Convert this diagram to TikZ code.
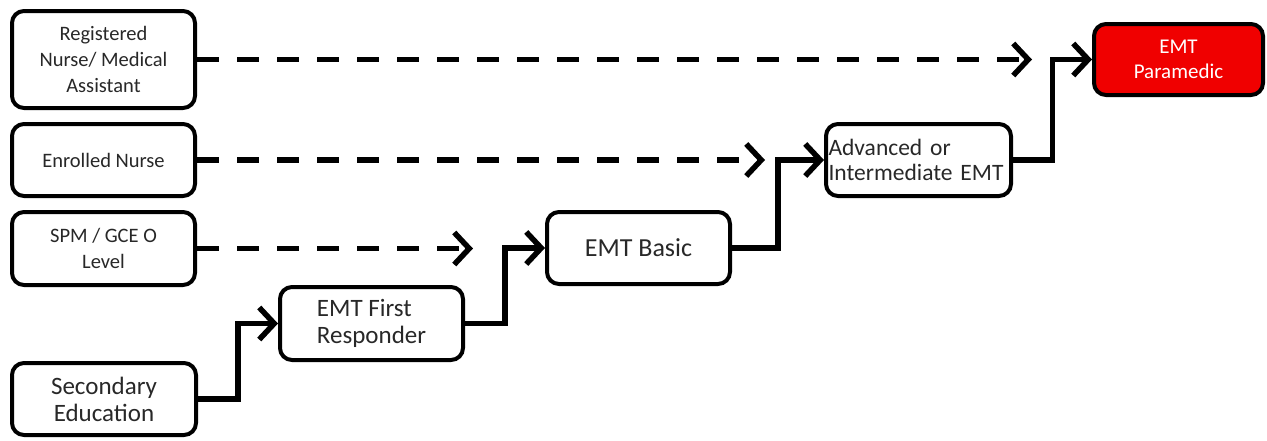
\documentclass[tikz,border=0pt]{standalone}
\usepackage{fontspec}
\setmainfont{Carlito}
\usetikzlibrary{arrows.meta,calc}
\definecolor{txt}{RGB}{40,40,40}
\definecolor{parared}{RGB}{240,0,0}
\tikzset{
  box/.style={draw=black, line width=4pt, rounded corners=12pt, fill=white,
    text=txt, align=center, inner sep=2pt},
  small/.style={font=\fontsize{20.5}{26}\selectfont},
  large/.style={font=\fontsize{25}{27}\selectfont},
  flow/.style={line width=5.5pt, -{Straight Barb[length=15pt,width=32pt,line width=5.5pt]}},
  dflow/.style={flow, dash pattern=on 22pt off 18pt},
}
\begin{document}
\begin{tikzpicture}[x=1pt,y=-1pt]
\useasboundingbox (0,0) rectangle (1267,440);
% boxes
\node[box,small,minimum width=183pt,minimum height=97pt] (reg) at (103.5,59.5) {Registered\\Nurse/ Medical\\Assistant};
\node[box,small,minimum width=183pt,minimum height=72pt] (enr) at (103.5,160) {Enrolled Nurse};
\node[box,small,minimum width=183pt,minimum height=73pt] (spm) at (103.5,248.5) {SPM / GCE O\\Level};
\node[box,large,minimum width=184pt,minimum height=72pt] (sec) at (104,399) {Secondary\\Education};
\node[box,large,minimum width=183pt,minimum height=73pt,align=left] (fr) at (371.5,323.5) {EMT First\\Responder};
\node[box,font=\fontsize{26}{28}\selectfont,minimum width=183pt,minimum height=72pt] (basic) at (638.5,248) {EMT Basic};
\node[box,font=\fontsize{23.5}{25}\selectfont,minimum width=185pt,minimum height=72pt,text width=180pt,align=left,inner xsep=1pt] (adv) at (918.5,160) {Advanced or\\Intermediate EMT};
\node[box,font=\fontsize{21}{25}\selectfont,fill=parared,text=white,minimum width=169pt,minimum height=71pt] (para) at (1178.5,59.5) {EMT\\Paramedic};
% free ends of dashed arrows
\coordinate (regend) at (1032,59.5);
\coordinate (enrend) at (765,160);
\coordinate (spmend) at (473,248.5);
\draw[dflow] (reg.east) -- (regend);
\draw[dflow] (enr.east) -- (enrend);
\draw[dflow] (spm.east) -- (spmend);
% solid stepped arrows
\coordinate (m1) at ($(sec.east)!0.5!(fr.west)$);
\coordinate (m2) at ($(fr.east)!0.5!(basic.west)$);
\coordinate (m3) at ($(basic.east)!0.5!(adv.west)$);
\coordinate (m4) at ($(adv.east)!0.5!(para.west)$);
\draw[flow] (sec.east) -- (sec.east -| m1) -- (fr.west -| m1) -- (fr.west);
\draw[flow] (fr.east) -- (fr.east -| m2) -- (basic.west -| m2) -- (basic.west);
\draw[flow] (basic.east) -- (basic.east -| m3) -- (adv.west -| m3) -- (adv.west);
\draw[flow] (adv.east) -- (adv.east -| m4) -- (para.west -| m4) -- (para.west);
\end{tikzpicture}
\end{document}
